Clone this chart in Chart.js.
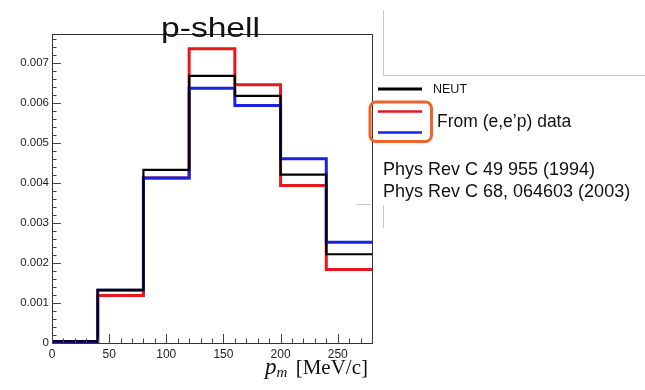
<!DOCTYPE html>
<html>
<head>
<meta charset="utf-8">
<script src="https://cdn.jsdelivr.net/npm/chart.js@4/dist/chart.umd.min.js"></script>
<style>
  html, body { margin: 0; padding: 0; background: #fff; }
  #wrap { width: 645px; height: 390px; position: relative; }
</style>
</head>
<body>
<div id="wrap"><canvas id="c" width="645" height="390"></canvas></div>
<script>
// Bin edges of the missing-momentum histogram (MeV/c)
const binEdges = [0, 40, 80, 120, 160, 200, 240, 280];
// Normalised bin contents
const neutValues = [0.00004, 0.00133, 0.00433, 0.00668, 0.00618, 0.00421, 0.00222];
const eepRedValues = [0.00004, 0.00119, 0.00413, 0.00736, 0.00646, 0.00394, 0.00184];
const eepBlueValues = [0.00004, 0.00132, 0.00413, 0.00637, 0.00594, 0.00461, 0.00252];
// Axis ticks
const xTickValues = [0, 50, 100, 150, 200, 250];
const yTickValues = [0, 0.001, 0.002, 0.003, 0.004, 0.005, 0.006, 0.007];
const xRange = [0, 280];
const yRange = [0, 0.00773];

// Turn bin contents into the outline of a step histogram
function histOutline(edges, vals) {
  const pts = [];
  for (let i = 0; i < vals.length; i++) {
    pts.push({ x: edges[i], y: vals[i] });
    pts.push({ x: edges[i + 1], y: vals[i] });
  }
  return pts;
}

const RED = '#e8171c';
const BLUE = '#1b22df';

const frameAndTicks = {
  id: 'frameAndTicks',
  afterDraw(chart) {
    const { ctx, chartArea: a, scales } = chart;
    const xs = scales.x, ys = scales.y;
    ctx.save();
    // frame
    ctx.strokeStyle = '#333';
    ctx.lineWidth = 1;
    ctx.strokeRect(Math.round(a.left) + 0.5, Math.round(a.top) + 0.5,
      Math.round(a.right - a.left), Math.round(a.bottom - a.top));
    // x ticks (inward)
    ctx.strokeStyle = '#444';
    ctx.beginPath();
    for (let v = xRange[0]; v <= xRange[1]; v += 10) {
      const px = Math.round(xs.getPixelForValue(v)) + 0.5;
      const len = (v % 50 === 0) ? 9 : 4.5;
      ctx.moveTo(px, a.bottom);
      ctx.lineTo(px, a.bottom - len);
    }
    // y ticks (inward)
    for (let i = 0; i * 0.0002 <= yRange[1] + 1e-9; i++) {
      const v = i * 0.0002;
      const py = Math.round(ys.getPixelForValue(v)) + 0.5;
      const len = (i % 5 === 0) ? 9 : 4.5;
      ctx.moveTo(a.left, py);
      ctx.lineTo(a.left + len, py);
    }
    ctx.stroke();

    // title
    ctx.fillStyle = '#111';
    ctx.font = '28px "Liberation Sans", Arial, sans-serif';
    ctx.textBaseline = 'alphabetic';
    ctx.save();
    ctx.translate(161, 36.5);
    ctx.scale(1.2, 1);
    ctx.fillText('p-shell', 0, 0);
    ctx.restore();

    // x axis title: p_m [MeV/c]
    ctx.fillStyle = '#111';
    ctx.font = 'italic 23px "Liberation Serif", "DejaVu Serif", serif';
    ctx.fillText('p', 265, 374);
    const pw = ctx.measureText('p').width;
    ctx.font = 'italic 15px "Liberation Serif", "DejaVu Serif", serif';
    ctx.fillText('m', 265 + pw, 377);
    ctx.font = '21px "Liberation Serif", "DejaVu Serif", serif';
    ctx.textAlign = 'right';
    ctx.fillText('[MeV/c]', 368, 374);
    ctx.textAlign = 'left';

    // faint panel edges on the right
    ctx.strokeStyle = '#c8c8c8';
    ctx.lineWidth = 1;
    ctx.beginPath();
    ctx.moveTo(383.5, 10); ctx.lineTo(383.5, 75.5); ctx.lineTo(645, 75.5);
    ctx.moveTo(356, 204.5); ctx.lineTo(371, 204.5);
    ctx.moveTo(383.5, 205); ctx.lineTo(383.5, 228);
    ctx.stroke();

    // legend
    ctx.lineWidth = 3;
    ctx.strokeStyle = '#000';
    ctx.beginPath(); ctx.moveTo(378, 89); ctx.lineTo(422, 89); ctx.stroke();
    ctx.lineWidth = 2.5;
    ctx.strokeStyle = RED;
    ctx.beginPath(); ctx.moveTo(378, 111.5); ctx.lineTo(422, 111.5); ctx.stroke();
    ctx.strokeStyle = BLUE;
    ctx.beginPath(); ctx.moveTo(378, 132.5); ctx.lineTo(422, 132.5); ctx.stroke();
    // orange highlight box
    ctx.strokeStyle = '#f0642c';
    ctx.lineWidth = 3;
    ctx.beginPath();
    ctx.roundRect(370, 102, 61.5, 39.5, 6);
    ctx.stroke();

    ctx.fillStyle = '#111';
    ctx.textBaseline = 'middle';
    ctx.font = '12.5px "Liberation Sans", Arial, sans-serif';
    ctx.fillText('NEUT', 433, 89.5);
    ctx.font = '17.5px "Liberation Sans", Arial, sans-serif';
    ctx.fillText('From (e,e\u2019p) data', 437, 122);
    ctx.font = '18px "Liberation Sans", Arial, sans-serif';
    ctx.fillText('Phys Rev C 49 955 (1994)', 383, 170);
    ctx.fillText('Phys Rev C 68, 064603 (2003)', 383, 192);
    ctx.restore();
  }
};

new Chart(document.getElementById('c'), {
  type: 'line',
  data: {
    datasets: [
      { label: 'NEUT', data: histOutline(binEdges, neutValues), borderColor: '#000', borderWidth: 2.2, order: 0 },
      { label: 'e,e\u2019p (blue)', data: histOutline(binEdges, eepBlueValues), borderColor: BLUE, borderWidth: 3, order: 1 },
      { label: 'e,e\u2019p (red)', data: histOutline(binEdges, eepRedValues), borderColor: RED, borderWidth: 3, order: 2 }
    ].map(d => Object.assign(d, { pointRadius: 0, fill: false, tension: 0, clip: false, borderJoinStyle: 'miter', borderCapStyle: 'butt' }))
  },
  options: {
    responsive: false,
    animation: false,
    events: [],
    layout: { padding: { left: 0, top: 34, right: 273, bottom: 0 } },
    plugins: { legend: { display: false }, title: { display: false }, tooltip: { enabled: false } },
    scales: {
      x: {
        type: 'linear',
        min: xRange[0], max: xRange[1],
        grid: { display: false, drawTicks: false },
        border: { display: false },
        afterFit(s) { s.height = 47; },
        afterBuildTicks(s) { s.ticks = xTickValues.map(v => ({ value: v })); },
        ticks: {
          padding: 4,
          maxRotation: 0,
          autoSkip: false,
          color: '#222',
          font: { family: '"Liberation Sans", Arial, sans-serif', size: 12 },
          callback: v => String(v)
        }
      },
      y: {
        type: 'linear',
        min: yRange[0], max: yRange[1],
        grid: { display: false, drawTicks: false },
        border: { display: false },
        afterFit(s) { s.width = 52; },
        afterBuildTicks(s) { s.ticks = yTickValues.map(v => ({ value: v })); },
        ticks: {
          padding: 3,
          autoSkip: false,
          color: '#222',
          font: { family: '"Liberation Sans", Arial, sans-serif', size: 11.5 },
          callback: v => (v === 0 ? '0' : v.toFixed(3))
        }
      }
    }
  },
  plugins: [frameAndTicks]
});
</script>
</body>
</html>
